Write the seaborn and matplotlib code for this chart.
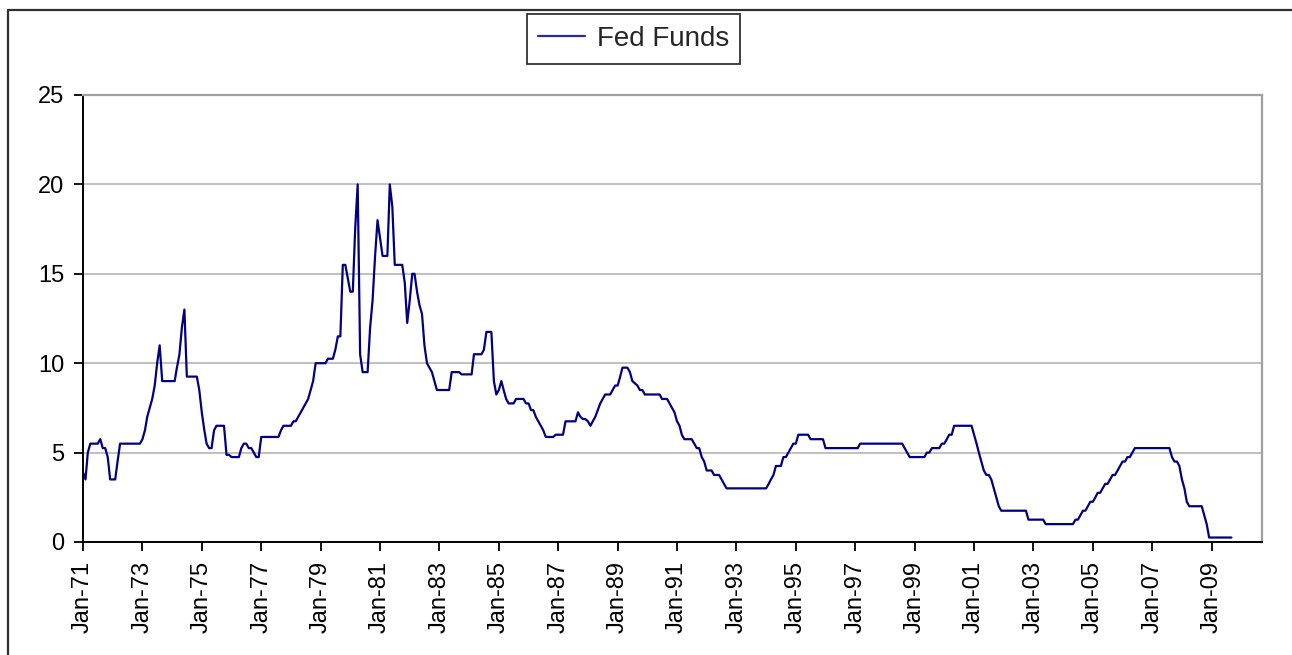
import matplotlib
matplotlib.use("Agg")
import matplotlib.pyplot as plt
import matplotlib.dates as mdates
from matplotlib.lines import Line2D
import numpy as np
import pandas as pd
import seaborn as sns

# ---------------- data (monthly, Jan-1971 .. Sep-2009) ----------------
series_name = "Fed Funds"
start_month = "1971-01-01"
fed_funds = [
    # 1971
    3.9, 3.5, 5.0, 5.5, 5.5, 5.5, 5.5, 5.75, 5.25, 5.25, 4.75, 3.5,
    # 1972
    3.5, 3.5, 4.5, 5.5, 5.5, 5.5, 5.5, 5.5, 5.5, 5.5, 5.5, 5.5,
    # 1973
    5.75, 6.25, 7.0, 7.5, 8.0, 8.75, 10.0, 11.0, 9.0, 9.0, 9.0, 9.0,
    # 1974
    9.0, 9.0, 9.75, 10.5, 12.0, 13.0, 9.25, 9.25, 9.25, 9.25, 9.25, 8.5,
    # 1975
    7.25, 6.25, 5.5, 5.25, 5.25, 6.25, 6.5, 6.5, 6.5, 6.5, 4.875, 4.875,
    # 1976
    4.75, 4.75, 4.75, 4.75, 5.25, 5.5, 5.5, 5.25, 5.25, 5.0, 4.75, 4.75,
    # 1977
    5.875, 5.875, 5.875, 5.875, 5.875, 5.875, 5.875, 5.875, 6.25, 6.5, 6.5, 6.5,
    # 1978
    6.5, 6.75, 6.75, 7.0, 7.25, 7.5, 7.75, 8.0, 8.5, 9.0, 10.0, 10.0,
    # 1979
    10.0, 10.0, 10.0, 10.25, 10.25, 10.25, 10.75, 11.5, 11.5, 15.5, 15.5, 14.75,
    # 1980
    14.0, 14.0, 17.5, 20.0, 10.5, 9.5, 9.5, 9.5, 12.0, 13.5, 16.0, 18.0,
    # 1981
    17.0, 16.0, 16.0, 16.0, 20.0, 18.75, 15.5, 15.5, 15.5, 15.5, 14.5, 12.25,
    # 1982
    13.5, 15.0, 15.0, 14.0, 13.25, 12.75, 11.0, 10.0, 9.75, 9.5, 9.0, 8.5,
    # 1983
    8.5, 8.5, 8.5, 8.5, 8.5, 9.5, 9.5, 9.5, 9.5, 9.375, 9.375, 9.375,
    # 1984
    9.375, 9.375, 10.5, 10.5, 10.5, 10.5, 10.75, 11.75, 11.75, 11.75, 9.0, 8.25,
    # 1985
    8.5, 9.0, 8.5, 8.0, 7.75, 7.75, 7.75, 8.0, 8.0, 8.0, 8.0, 7.75,
    # 1986
    7.75, 7.375, 7.375, 7.0, 6.75, 6.5, 6.25, 5.875, 5.875, 5.875, 5.875, 6.0,
    # 1987
    6.0, 6.0, 6.0, 6.75, 6.75, 6.75, 6.75, 6.75, 7.25, 7.0, 6.875, 6.875,
    # 1988
    6.75, 6.5, 6.75, 7.0, 7.375, 7.75, 8.0, 8.25, 8.25, 8.25, 8.5, 8.75,
    # 1989
    8.75, 9.25, 9.75, 9.75, 9.75, 9.5, 9.0, 8.875, 8.75, 8.5, 8.5, 8.25,
    # 1990
    8.25, 8.25, 8.25, 8.25, 8.25, 8.25, 8.0, 8.0, 8.0, 7.75, 7.5, 7.25,
    # 1991
    6.75, 6.5, 6.0, 5.75, 5.75, 5.75, 5.75, 5.5, 5.25, 5.25, 4.75, 4.5,
    # 1992
    4.0, 4.0, 4.0, 3.75, 3.75, 3.75, 3.5, 3.25, 3.0, 3.0, 3.0, 3.0,
    # 1993
    3.0, 3.0, 3.0, 3.0, 3.0, 3.0, 3.0, 3.0, 3.0, 3.0, 3.0, 3.0,
    # 1994
    3.0, 3.25, 3.5, 3.75, 4.25, 4.25, 4.25, 4.75, 4.75, 5.0, 5.25, 5.5,
    # 1995
    5.5, 6.0, 6.0, 6.0, 6.0, 6.0, 5.75, 5.75, 5.75, 5.75, 5.75, 5.75,
    # 1996
    5.25, 5.25, 5.25, 5.25, 5.25, 5.25, 5.25, 5.25, 5.25, 5.25, 5.25, 5.25,
    # 1997
    5.25, 5.25, 5.5, 5.5, 5.5, 5.5, 5.5, 5.5, 5.5, 5.5, 5.5, 5.5,
    # 1998
    5.5, 5.5, 5.5, 5.5, 5.5, 5.5, 5.5, 5.5, 5.25, 5.0, 4.75, 4.75,
    # 1999
    4.75, 4.75, 4.75, 4.75, 4.75, 5.0, 5.0, 5.25, 5.25, 5.25, 5.25, 5.5,
    # 2000
    5.5, 5.75, 6.0, 6.0, 6.5, 6.5, 6.5, 6.5, 6.5, 6.5, 6.5, 6.5,
    # 2001
    6.0, 5.5, 5.0, 4.5, 4.0, 3.75, 3.75, 3.5, 3.0, 2.5, 2.0, 1.75,
    # 2002
    1.75, 1.75, 1.75, 1.75, 1.75, 1.75, 1.75, 1.75, 1.75, 1.75, 1.25, 1.25,
    # 2003
    1.25, 1.25, 1.25, 1.25, 1.25, 1.0, 1.0, 1.0, 1.0, 1.0, 1.0, 1.0,
    # 2004
    1.0, 1.0, 1.0, 1.0, 1.0, 1.25, 1.25, 1.5, 1.75, 1.75, 2.0, 2.25,
    # 2005
    2.25, 2.5, 2.75, 2.75, 3.0, 3.25, 3.25, 3.5, 3.75, 3.75, 4.0, 4.25,
    # 2006
    4.5, 4.5, 4.75, 4.75, 5.0, 5.25, 5.25, 5.25, 5.25, 5.25, 5.25, 5.25,
    # 2007
    5.25, 5.25, 5.25, 5.25, 5.25, 5.25, 5.25, 5.25, 4.75, 4.5, 4.5, 4.25,
    # 2008
    3.5, 3.0, 2.25, 2.0, 2.0, 2.0, 2.0, 2.0, 2.0, 1.5, 1.0, 0.25,
    # 2009
    0.25, 0.25, 0.25, 0.25, 0.25, 0.25, 0.25, 0.25, 0.25,
]
y_ticks = [0, 5, 10, 15, 20, 25]
x_tick_years = list(range(1971, 2010, 2))

dates = pd.date_range(start_month, periods=len(fed_funds), freq="MS")
df = pd.DataFrame({"date": dates, "rate": fed_funds})

# ---------------- styling ----------------
sns.set_style("white")
plt.rcParams["font.family"] = ["Liberation Sans", "DejaVu Sans"]
FS = 17
LFS = 20

fig = plt.figure(figsize=(12.92, 6.55), dpi=100)
W, H = 1292, 655
ax = fig.add_axes([83 / W, 1 - 542 / H, (1262 - 83) / W, (542 - 95) / H])

sns.lineplot(data=df, x="date", y="rate", ax=ax, color="#000080",
             linewidth=1.6, label=series_name, legend=False)

ax.set_ylim(0, 25)
ax.set_yticks(y_ticks)
ax.set_xlim(pd.Timestamp("1971-01-01"), pd.Timestamp("2010-09-12"))
ax.set_xticks([pd.Timestamp(f"{y}-01-01") for y in x_tick_years])
ax.xaxis.set_major_formatter(mdates.DateFormatter("%b-%y"))
ax.set_xlabel("")
ax.set_ylabel("")

ax.yaxis.grid(True, color="#c0c0c0", linewidth=1.4)
ax.xaxis.grid(False)
ax.set_axisbelow(True)

for s in ["left", "bottom"]:
    ax.spines[s].set_color("black")
    ax.spines[s].set_linewidth(1.4)
for s in ["top", "right"]:
    ax.spines[s].set_color("#a0a0a0")
    ax.spines[s].set_linewidth(1.6)

ax.tick_params(axis="both", which="major", direction="out", length=6.5,
               width=1.3, color="black", labelsize=FS, labelcolor="black",
               left=True, bottom=True)
ax.tick_params(axis="y", pad=7)
ax.tick_params(axis="x", pad=7)
plt.setp(ax.get_xticklabels(), rotation=90, ha="center", va="top")

# legend
handle = Line2D([0], [0], color="#2a2aa0", linewidth=1.6)
leg = fig.legend([handle], [series_name], loc="center",
                 bbox_to_anchor=(633.5 / W, 1 - 39 / H), frameon=True,
                 fancybox=False, shadow=False, fontsize=LFS,
                 handlelength=1.7, handletextpad=0.4, borderpad=0.42,
                 borderaxespad=0)
leg.get_frame().set_edgecolor("black")
leg.get_frame().set_linewidth(1.3)

# outer chart-area border (left and top visible)
fig.add_artist(Line2D([8 / W, 8 / W], [0, 1 - 10 / H], transform=fig.transFigure,
                      color="#303030", linewidth=1.6))
fig.add_artist(Line2D([8 / W, 1], [1 - 10 / H, 1 - 10 / H], transform=fig.transFigure,
                      color="#303030", linewidth=1.6))

fig.savefig("out.png", dpi=100, facecolor="white")
